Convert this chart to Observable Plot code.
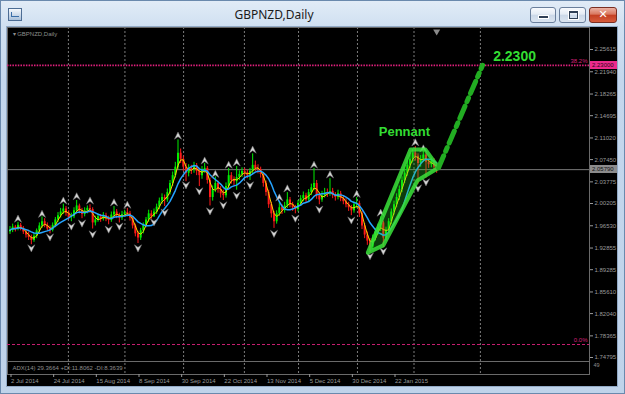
<!DOCTYPE html>
<html><head><meta charset="utf-8">
<script src="https://cdn.jsdelivr.net/npm/d3@7"></script>
<script src="https://cdn.jsdelivr.net/npm/@observablehq/plot@0.6"></script>
<style>
html,body{margin:0;padding:0;overflow:hidden;background:#c6d9ee;}
#win{position:relative;width:625px;height:394px;overflow:hidden;
 background:linear-gradient(to bottom,#e2ecf7 0px,#d0e0f1 26px,#c4d7ed 80px,#bfd3ea 100%);
 box-shadow:inset 0 0 0 1px #6a89ad;font-family:"Noto Sans","DejaVu Sans",sans-serif;}
#title{position:absolute;left:0;top:6px;width:548px;text-align:center;font-size:12px;line-height:18px;color:#1b1b1b;}
#icon{position:absolute;left:8px;top:8px;width:12px;height:11px;border:1px solid #4d6d94;background:linear-gradient(#f6f9fd,#a9c0da);}
#icon:after{content:"";position:absolute;left:2px;top:3px;width:7px;height:4px;border-left:1px solid #3b6ea8;border-bottom:1px solid #3b6ea8;}
.btn{position:absolute;top:7px;height:16px;box-sizing:border-box;border:1px solid #6a7f9c;border-radius:3px;
 background:linear-gradient(#f8fafd 0%,#e4ebf4 45%,#cbd8e8 50%,#dbe5f0 100%);}
#bmin{left:530px;width:26px;}
#bmin:after{content:"";position:absolute;left:8px;top:8px;width:9px;height:2px;background:#2f3f55;box-shadow:0 0 0 1px #fff;}
#bmax{left:559px;width:27px;}
#bmax:after{content:"";position:absolute;left:9px;top:3px;width:7px;height:5px;border:1px solid #2f3f55;border-top-width:2px;box-shadow:0 0 0 1px #fff;}
#bclose{left:589px;width:28px;border-color:#7a2e22;
 background:linear-gradient(#ebb2a4 0%,#d9765e 45%,#c43f22 50%,#d65c3c 100%);color:#fff;font:bold 11px/14px "DejaVu Sans",sans-serif;text-align:center;}
#chart{position:absolute;left:7px;top:27px;width:610px;height:359px;background:#000;box-shadow:0 0 0 1px #92aac6;overflow:hidden;}
#chart svg{display:block;position:absolute;left:0;top:0;}
.ov{position:absolute;}
</style></head>
<body>
<div id="win">
 <div id="icon"></div>
 <div id="title">GBPNZD,Daily</div>
 <div class="btn" id="bmin"></div>
 <div class="btn" id="bmax"></div>
 <div class="btn" id="bclose">✕</div>
 <div id="chart"></div>
</div>
<script>
// ---- data ----
const open = [1.955,1.958,1.963,1.960,1.966,1.961,1.955,1.950,1.946,1.941,
1.948,1.957,1.965,1.972,1.966,1.960,1.958,1.966,1.975,1.982,
1.988,1.993,1.986,1.979,1.980,1.990,1.998,1.990,1.984,1.990,
1.994,1.992,1.970,1.975,1.980,1.976,1.982,1.977,1.974,1.983,
1.988,1.982,1.978,1.984,1.987,1.985,1.978,1.965,1.952,1.945,
1.957,1.966,1.975,1.985,1.980,1.988,1.996,2.006,2.012,2.008,
2.020,2.035,2.048,2.062,2.085,2.075,2.062,2.052,2.060,2.058,
2.064,2.055,2.048,2.058,2.060,2.040,2.012,2.025,2.035,2.025,
2.018,2.015,2.030,2.048,2.040,2.038,2.045,2.050,2.055,2.052,
2.048,2.055,2.065,2.060,2.058,2.050,2.035,2.020,2.000,1.985,
1.972,1.985,1.995,1.990,1.998,2.008,2.000,1.995,1.992,2.002,
2.010,2.015,2.008,2.020,2.028,2.035,2.015,2.008,2.015,2.020,
2.018,2.022,2.015,2.012,2.018,2.010,2.005,2.000,1.995,1.990,
2.000,2.002,1.985,1.965,1.950,1.940,1.930,1.945,1.955,1.962,
1.970,1.945,1.958,1.972,1.988,2.000,2.012,2.025,2.040,2.052,
2.065,2.075,2.085,2.080,2.068,2.075,2.082,2.070,2.066,2.072,
2.062];
const high = [1.964,1.968,1.966,1.971,1.969,1.964,1.959,1.955,1.950,1.952,
1.960,1.970,1.980,1.977,1.970,1.965,1.970,1.979,1.987,1.994,
2.001,1.997,1.990,1.986,1.995,2.007,2.001,1.994,1.995,1.998,
2.000,1.995,1.981,1.985,1.984,1.987,1.986,1.981,1.988,1.997,
1.992,1.986,1.989,1.991,1.994,1.989,1.981,1.968,1.956,1.961,
1.970,1.979,1.991,1.990,1.993,2.001,2.011,2.018,2.016,2.026,
2.040,2.054,2.070,2.107,2.092,2.080,2.068,2.066,2.065,2.070,
2.068,2.060,2.063,2.068,2.063,2.044,2.031,2.046,2.039,2.030,
2.024,2.036,2.060,2.053,2.046,2.063,2.056,2.061,2.060,2.057,
2.060,2.084,2.072,2.066,2.062,2.053,2.039,2.024,2.004,1.989,
1.990,2.005,2.000,2.004,2.020,2.012,2.004,1.999,2.007,2.015,
2.021,2.019,2.025,2.034,2.060,2.040,2.020,2.022,2.027,2.026,
2.043,2.027,2.020,2.024,2.022,2.014,2.010,2.004,1.999,2.005,
2.012,2.006,1.989,1.969,1.955,1.944,1.950,1.961,1.968,1.980,
1.973,1.963,1.977,1.993,2.006,2.018,2.031,2.046,2.059,2.072,
2.082,2.091,2.096,2.084,2.081,2.088,2.085,2.075,2.077,2.076,
2.066];
const low = [1.951,1.954,1.955,1.957,1.957,1.951,1.945,1.941,1.934,1.938,
1.944,1.953,1.961,1.962,1.956,1.952,1.955,1.962,1.971,1.978,
1.984,1.981,1.975,1.972,1.977,1.986,1.985,1.977,1.980,1.985,
1.986,1.960,1.965,1.971,1.971,1.973,1.972,1.967,1.971,1.979,
1.977,1.970,1.974,1.979,1.980,1.973,1.960,1.947,1.936,1.941,
1.952,1.962,1.971,1.976,1.979,1.984,1.992,2.001,1.997,2.004,
2.016,2.030,2.044,2.058,2.068,2.055,2.038,2.046,2.050,2.052,
2.048,2.030,2.042,2.052,2.034,1.998,2.006,2.020,2.019,2.011,
2.007,2.011,2.026,2.034,2.031,2.024,2.040,2.045,2.047,2.043,
2.040,2.050,2.054,2.051,2.044,2.029,2.014,1.994,1.978,1.961,
1.968,1.981,1.984,1.986,1.994,1.995,1.989,1.985,1.988,1.997,
2.005,2.003,2.004,2.015,2.023,2.009,2.000,2.004,2.011,2.012,
2.014,2.010,2.006,2.008,2.005,2.000,1.995,1.989,1.982,1.986,
1.994,1.979,1.959,1.944,1.933,1.921,1.926,1.940,1.950,1.956,
1.929,1.940,1.953,1.967,1.983,1.995,2.007,2.020,2.035,2.047,
2.059,2.069,2.072,2.034,2.062,2.070,2.044,2.060,2.061,2.057,
2.052];
const close = [1.958,1.963,1.960,1.966,1.961,1.955,1.950,1.946,1.941,1.948,
1.957,1.965,1.972,1.966,1.960,1.958,1.966,1.975,1.982,1.988,
1.993,1.986,1.979,1.980,1.990,1.998,1.990,1.984,1.990,1.994,
1.992,1.970,1.975,1.980,1.976,1.982,1.977,1.974,1.983,1.988,
1.982,1.978,1.984,1.987,1.985,1.978,1.965,1.952,1.945,1.957,
1.966,1.975,1.985,1.980,1.988,1.996,2.006,2.012,2.008,2.020,
2.035,2.048,2.062,2.085,2.075,2.062,2.052,2.060,2.058,2.064,
2.055,2.048,2.058,2.060,2.040,2.012,2.025,2.035,2.025,2.018,
2.015,2.030,2.048,2.040,2.038,2.045,2.050,2.055,2.052,2.048,
2.055,2.065,2.060,2.058,2.050,2.035,2.020,2.000,1.985,1.972,
1.985,1.995,1.990,1.998,2.008,2.000,1.995,1.992,2.002,2.010,
2.015,2.008,2.020,2.028,2.035,2.015,2.008,2.015,2.020,2.018,
2.022,2.015,2.012,2.018,2.010,2.005,2.000,1.995,1.990,2.000,
2.002,1.985,1.965,1.950,1.940,1.930,1.945,1.955,1.962,1.970,
1.945,1.958,1.972,1.988,2.000,2.012,2.025,2.040,2.052,2.065,
2.075,2.085,2.080,2.068,2.075,2.082,2.070,2.066,2.072,2.062,
2.0579];

const dateLabels = ["2 Jul 2014","24 Jul 2014","15 Aug 2014","8 Sep 2014","30 Sep 2014","22 Oct 2014","13 Nov 2014","5 Dec 2014","30 Dec 2014","22 Jan 2015"];
const dateTickBars = [0,16,32,48,64,80,96,112,128,144];
const priceTicks = [2.25615,2.21940,2.18265,2.14695,2.11020,2.07450,2.03775,2.00205,1.96530,1.92855,1.89285,1.85610,1.82040,1.78365,1.74795];
const gridBars = [21.9,43.1,65.1,87.9,108.2,130.3,151.5,176.4];

const upFractalBars = [3,12,20,25,30,39,44,63,73,77,82,85,91,101,104,114,120,130,139,152,155];
const upFractalPrices = [1.977,1.985,2.007,2.014,2.007,2.004,2.000,2.114,2.073,2.051,2.066,2.070,2.091,2.012,2.027,2.066,2.050,2.018,1.987,2.103,2.093];
const downFractalBars = [8,15,23,27,31,37,41,48,54,58,66,71,75,80,85,90,99,107,116,128,135,140,153,156];
const downFractalPrices = [1.928,1.946,1.964,1.969,1.951,1.959,1.964,1.928,1.971,1.987,2.032,2.022,1.989,1.999,2.015,2.032,1.952,1.977,1.992,1.974,1.915,1.923,2.027,2.037];

const fibLevels = [2.2300, 1.7694];
const fibLabels = ["38.2%", "0.0%"];
const pennantBars = [134.2,150.2,155.8,160.7,152.8,140.0,134.2];
const pennantPrices = [1.921,2.091,2.091,2.061,2.040,1.933,1.921];
const projectionBars = [160.7,177.2];
const projectionPrices = [2.061,2.2300];
const annotationTexts = ["Pennant","2.2300"];
const chartLabel = "▾ GBPNZD,Daily";
const adxLabel = "ADX(14) 29.3664 +DI:11.8062 -DI:8.3639";

// ---- build ----
const bars = close.map((c,i)=>({i, o:open[i], h:high[i], l:low[i], c}));
const upBars = bars.filter(d=>d.c>=d.o), dnBars = bars.filter(d=>d.c<d.o);
const ups = upFractalBars.map((b,k)=>({b, p:upFractalPrices[k]}));
const dns = downFractalBars.map((b,k)=>({b, p:downFractalPrices[k]}));
const pennant = pennantBars.map((b,k)=>({b, p:pennantPrices[k]}));
const projection = projectionBars.map((b,k)=>({b, p:projectionPrices[k]}));
const bid = close[close.length-1];

const arrowUp = {draw(ctx,size){const s=Math.sqrt(size/Math.PI);ctx.moveTo(0,-s);ctx.lineTo(s,s);ctx.lineTo(0,s*0.3);ctx.lineTo(-s,s);ctx.closePath();}};
const arrowDown = {draw(ctx,size){const s=Math.sqrt(size/Math.PI);ctx.moveTo(0,s);ctx.lineTo(s,-s);ctx.lineTo(0,-s*0.3);ctx.lineTo(-s,-s);ctx.closePath();}};

const GREEN="#00ee00", RED="#ff1a1a", AX="#9a9a9a";
const plot = Plot.plot({
  width:610, height:359, marginLeft:0, marginRight:28, marginTop:0, marginBottom:12,
  style:{background:"transparent", color:AX, fontFamily:"'Liberation Sans',Arial,sans-serif", fontSize:"6px", overflow:"visible"},
  x:{domain:[0,144], range:[2.5,386.5], axis:null, label:null},
  y:{domain:[1.74795,2.25615], range:[330,22], axis:null, label:null},
  marks:[
    Plot.ruleX(gridBars, {stroke:"#7c7c7c", strokeDasharray:"2,2", strokeWidth:1}),
    Plot.frame({stroke:"#6a6a6a"}),
    Plot.ruleY([fibLevels[0]], {stroke:"#e0207c", strokeWidth:1.6, strokeDasharray:"1.5,1.2"}),
    Plot.ruleY([fibLevels[1]], {stroke:"#c81e70", strokeWidth:1, strokeDasharray:"3,2"}),
    Plot.text(fibLevels, {y:d=>d, text:(d,i)=>fibLabels[i], frameAnchor:"right", textAnchor:"end", dx:-2, dy:-4, fill:"#d8207a", fontSize:6}),
    Plot.ruleY([bid], {stroke:"#7a7a7a", strokeWidth:1}),
    Plot.ruleX(upBars, {x:"i", y1:"l", y2:"h", stroke:GREEN, strokeWidth:1}),
    Plot.ruleX(dnBars, {x:"i", y1:"l", y2:"h", stroke:RED, strokeWidth:1}),
    Plot.ruleX(upBars, {x:"i", y1:"o", y2:"c", stroke:GREEN, strokeWidth:2}),
    Plot.ruleX(dnBars, {x:"i", y1:"o", y2:"c", stroke:RED, strokeWidth:2}),
    Plot.line(bars, Plot.windowY({k:3, anchor:"end"}, {x:"i", y:"c", stroke:"#ffd200", strokeWidth:1})),
    Plot.line(bars, Plot.windowY({k:8, anchor:"end"}, {x:"i", y:"c", stroke:"#25a4ff", strokeWidth:1.5})),
    Plot.dot(ups, {x:"b", y:"p", symbol:arrowUp, r:3.6, fill:"#d6d6d6", stroke:"#707070", strokeWidth:0.5}),
    Plot.dot(dns, {x:"b", y:"p", symbol:arrowDown, r:3.6, fill:"#d6d6d6", stroke:"#707070", strokeWidth:0.5}),
    Plot.line(pennant, {x:"b", y:"p", fill:"#2ed82e", fillOpacity:0.28, stroke:"#3ae23a", strokeOpacity:0.85, strokeWidth:4, strokeLinejoin:"round"}),
    Plot.line(projection, {x:"b", y:"p", stroke:"#22ad22", strokeWidth:5, strokeDasharray:"13,5,4,5"}),
    Plot.text([annotationTexts[0]], {x:147.9, y:2.121, fill:"#33dd33", fontSize:13, fontWeight:"bold", fontFamily:"'Liberation Sans',Arial,sans-serif"}),
    Plot.text([annotationTexts[1]], {x:189.2, y:2.2446, fill:"#33dd33", fontSize:14, fontWeight:"bold", fontFamily:"'Liberation Sans',Arial,sans-serif"}),
    Plot.dot([close.length-1], {x:d=>d, frameAnchor:"top", dy:4, symbol:"triangle", rotate:180, r:2.6, fill:"#8a8a8a"}),
    Plot.text([chartLabel], {frameAnchor:"top-left", dx:5, dy:7, textAnchor:"start", lineAnchor:"middle", fill:"#8e8e8e", fontSize:6}),
    Plot.text([adxLabel], {frameAnchor:"bottom-left", dx:5, dy:-6.5, textAnchor:"start", lineAnchor:"middle", fill:"#8e8e8e", fontSize:6}),
    Plot.text(["49"], {frameAnchor:"bottom-right", dx:4, dy:-9, textAnchor:"start", lineAnchor:"middle", fill:"#8e8e8e", fontSize:5.5}),
    Plot.axisY(priceTicks, {anchor:"right", tickSize:3, tickPadding:2, tickFormat:d3.format(".5f"), fontSize:6, label:null}),
    Plot.axisX(dateTickBars, {anchor:"bottom", tickSize:3, tickPadding:1.5, textAnchor:"start", dx:1, fontSize:6, label:null,
      tickFormat:d=>dateLabels[dateTickBars.indexOf(d)]})
  ]
});
const chartDiv = document.getElementById("chart");
chartDiv.appendChild(plot);

// sub-window separator (chrome)
const sep = document.createElement("div");
sep.className="ov"; Object.assign(sep.style,{left:"0px",top:"334px",width:"582px",height:"1px",background:"#6a6a6a"});
chartDiv.appendChild(sep);

// price tags on the axis, positioned with Plot's y scale
const ys = plot.scale("y");
function tag(v, bg, fg){
  const d=document.createElement("div"); d.className="ov";
  Object.assign(d.style,{left:"583px",top:(ys.apply(v)-4)+"px",width:"27px",height:"8px",background:bg,color:fg,
    font:"6px/8px 'Liberation Sans',Arial,sans-serif",paddingLeft:"2px",boxSizing:"border-box"});
  d.textContent=d3.format(".5f")(v); chartDiv.appendChild(d);
}
tag(fibLevels[0], "#ee2a8c", "#2a0616");
tag(bid, "#8c8c8c", "#111");
</script>
</body></html>
